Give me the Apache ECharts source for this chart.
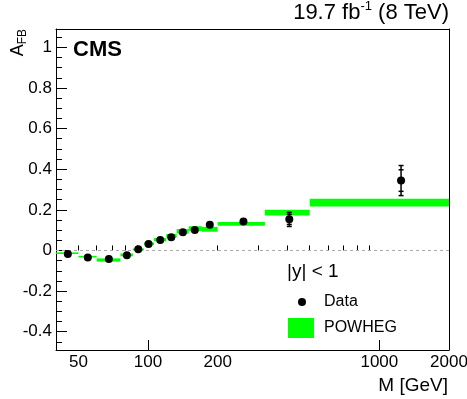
<!DOCTYPE html>
<html>
<head>
<meta charset="utf-8">
<script src="https://cdn.jsdelivr.net/npm/echarts@6/dist/echarts.min.js"></script>
<style>html,body{margin:0;padding:0;background:#fff;}#c{width:467px;height:399px;}</style>
</head>
<body>
<div id="c"></div>
<script>
// ---- data ----
const massCenters = [45.0, 54.9, 67.7, 81.0, 90.7, 100.5, 112.9, 126.0, 141.4, 159.3, 184.9, 258.5, 408, 1241];
const afbData     = [-0.017, -0.035, -0.042, -0.024, 0.006, 0.032, 0.052, 0.065, 0.089, 0.101, 0.127, 0.142, 0.153, 0.344];
const statErr     = [0.004, 0.004, 0.004, 0.003, 0.002, 0.002, 0.003, 0.004, 0.005, 0.006, 0.007, 0.010, 0.025, 0.053];
const totErr      = [0.006, 0.006, 0.006, 0.004, 0.003, 0.003, 0.004, 0.006, 0.007, 0.008, 0.010, 0.013, 0.035, 0.074];

const binEdges    = [40, 50, 60, 76, 86, 96, 106, 120, 133, 150, 171, 200, 320, 500, 2000];
const powhegAfb   = [-0.0135, -0.0305, -0.047, -0.022, 0.005, 0.033, 0.053, 0.072, 0.094, 0.107, 0.104, 0.131, 0.186, 0.235];
const powhegErr   = [0.004, 0.004, 0.008, 0.007, 0.005, 0.006, 0.008, 0.009, 0.011, 0.012, 0.012, 0.009, 0.014, 0.019];

const xLabelValues = [50, 100, 200, 1000, 2000];
const xMajorTicks  = [100, 1000];
const xMinorTicks  = [50, 60, 70, 80, 90, 200, 300, 400, 500, 600, 700, 800, 900, 2000];
const yMajorTicks  = [-0.4, -0.2, 0, 0.2, 0.4, 0.6, 0.8, 1];
const yMinorTicks  = [-0.45, -0.35, -0.3, -0.25, -0.15, -0.1, -0.05, 0.05, 0.1, 0.15, 0.25, 0.3, 0.35, 0.45, 0.5, 0.55, 0.65, 0.7, 0.75, 0.85, 0.9, 0.95, 1.05];

const xMin = 40, xMax = 2000, yMin = -0.49, yMax = 1.09;
const FONT = 'Liberation Sans, Arial, Helvetica, sans-serif';
const L = Math.log10;

const scatterData = massCenters.map((m, i) => [L(m), afbData[i]]);
const errData = massCenters.map((m, i) => [L(m), afbData[i], statErr[i], totErr[i]]);
const powhegData = powhegAfb.map((v, i) => [L(binEdges[i]), L(binEdges[i + 1]), v, powhegErr[i]]);

const chart = echarts.init(document.getElementById('c'), null, {renderer: 'canvas'});
const xBase = {type: 'value', min: L(xMin), max: L(xMax), splitLine: {show: false}};
const yBase = {type: 'value', min: yMin, max: yMax, splitLine: {show: false}};

chart.setOption({
  animation: false,
  backgroundColor: '#fff',
  grid: {left: 56, top: 29, right: 18, bottom: 49, containLabel: false, outerBoundsMode: 'none'},
  xAxis: [
    Object.assign({}, xBase, {
      position: 'bottom',
      axisLine: {show: true, onZero: false, lineStyle: {color: '#000', width: 1}},
      axisTick: {show: true, inside: true, length: 10, customValues: xMajorTicks.map(L), lineStyle: {color: '#000'}},
      axisLabel: {show: true, customValues: xLabelValues.map(L), formatter: v => String(Math.round(Math.pow(10, v))),
                  fontSize: 17, color: '#000', fontFamily: FONT, margin: 4}
    }),
    Object.assign({}, xBase, {
      position: 'bottom',
      axisLine: {show: false},
      axisTick: {show: true, inside: true, length: 5, customValues: xMinorTicks.map(L), lineStyle: {color: '#000'}},
      axisLabel: {show: false}
    }),
    Object.assign({}, xBase, {
      position: 'top',
      axisLine: {show: true, onZero: false, lineStyle: {color: '#000', width: 1}},
      axisTick: {show: false}, axisLabel: {show: false}
    })
  ],
  yAxis: [
    Object.assign({}, yBase, {
      position: 'left',
      axisLine: {show: true, onZero: false, lineStyle: {color: '#000', width: 1}},
      axisTick: {show: true, inside: true, length: 11, customValues: yMajorTicks, lineStyle: {color: '#000'}},
      axisLabel: {show: true, customValues: yMajorTicks, formatter: v => String(Math.round(v * 10) / 10),
                  fontSize: 17, color: '#000', fontFamily: FONT, margin: 4}
    }),
    Object.assign({}, yBase, {
      position: 'left',
      axisLine: {show: false},
      axisTick: {show: true, inside: true, length: 6, customValues: yMinorTicks, lineStyle: {color: '#000'}},
      axisLabel: {show: false}
    }),
    Object.assign({}, yBase, {
      position: 'right',
      axisLine: {show: true, onZero: false, lineStyle: {color: '#000', width: 1}},
      axisTick: {show: false}, axisLabel: {show: false}
    })
  ],
  legend: [
    {
      data: [{name: 'Data', icon: 'circle'}],
      left: 298, top: 294, padding: 0, itemWidth: 8, itemHeight: 8, selectedMode: false,
      itemStyle: {opacity: 1},
      textStyle: {fontSize: 16, color: '#000', fontFamily: FONT, padding: [0, 0, 0, 13]}
    },
    {
      data: [{name: 'POWHEG', icon: 'rect'}],
      left: 288, top: 318, padding: 0, itemWidth: 26, itemHeight: 20, selectedMode: false,
      textStyle: {fontSize: 16, color: '#000', fontFamily: FONT, padding: [0, 0, 0, 5]}
    }
  ],
  series: [
    {
      name: 'POWHEG', type: 'custom', xAxisIndex: 0, yAxisIndex: 0, z: 2,
      itemStyle: {color: '#00ff00'},
      encode: {x: [0, 1], y: 2},
      renderItem: function (params, api) {
        const p1 = api.coord([api.value(0), api.value(2) + api.value(3)]);
        const p2 = api.coord([api.value(1), api.value(2) - api.value(3)]);
        return {type: 'rect', shape: {x: p1[0], y: p1[1], width: p2[0] - p1[0], height: Math.max(1.5, p2[1] - p1[1])},
                style: {fill: '#00ff00'}};
      },
      data: powhegData
    },
    {
      name: 'DataErr', type: 'custom', xAxisIndex: 0, yAxisIndex: 0, z: 3,
      encode: {x: 0, y: 1},
      renderItem: function (params, api) {
        const x = api.value(0), y = api.value(1), s = api.value(2), t = api.value(3);
        const top = api.coord([x, y + t]), bot = api.coord([x, y - t]);
        const st = api.coord([x, y + s]), sb = api.coord([x, y - s]);
        const st0 = {stroke: '#000', lineWidth: 1.5};
        const cap = (p, w) => ({type: 'line', shape: {x1: p[0] - w, y1: p[1], x2: p[0] + w, y2: p[1]}, style: st0});
        return {type: 'group', children: [
          {type: 'line', shape: {x1: top[0], y1: top[1], x2: bot[0], y2: bot[1]}, style: st0},
          cap(top, 2.5), cap(bot, 2.5), cap(st, 2.5), cap(sb, 2.5)
        ]};
      },
      data: errData
    },
    {
      name: 'Data', type: 'scatter', xAxisIndex: 0, yAxisIndex: 0, z: 4,
      symbol: 'circle', symbolSize: 8, itemStyle: {color: '#000', opacity: 1},
      data: scatterData,
      markLine: {
        silent: true, symbol: 'none', label: {show: false}, z: 1,
        lineStyle: {color: '#aaaaaa', type: [3, 3], width: 1},
        data: [{yAxis: 0}]
      }
    }
  ],
  graphic: [
    {type: 'text', right: 18, top: 0, z: 10,
     style: {text: '{a|19.7 fb}{s|-1}{a| (8 TeV)}', fill: '#000', fontFamily: FONT,
             rich: {a: {fontSize: 22, lineHeight: 26, fontFamily: FONT}, s: {fontSize: 13, lineHeight: 13, verticalAlign: 'top', fontFamily: FONT}}}},
    {type: 'text', left: 73, top: 39, z: 10,
     style: {text: 'CMS', fill: '#000', fontSize: 22, fontWeight: 'bold', fontFamily: FONT}},
    {type: 'text', x: 18, y: 29, rotation: Math.PI / 2, z: 10,
     style: {text: '{a|A}{b|FB}', align: 'right', verticalAlign: 'middle', fill: '#000', fontFamily: FONT,
             rich: {a: {fontSize: 18, fontFamily: FONT, lineHeight: 22}, b: {fontSize: 12, fontFamily: FONT, verticalAlign: 'bottom', lineHeight: 12}}}},
    {type: 'text', right: 19, top: 376, z: 10,
     style: {text: 'M [GeV]', fill: '#000', fontSize: 19, fontFamily: FONT}},
    {type: 'text', left: 287, top: 262, z: 10,
     style: {text: '|y| < 1', fill: '#000', fontSize: 19, fontFamily: FONT}}
  ]
});
</script>
</body>
</html>
